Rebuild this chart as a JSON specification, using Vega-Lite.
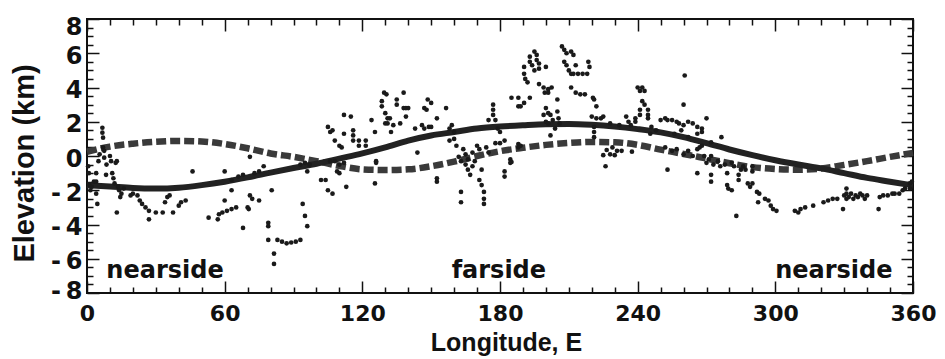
{
  "$schema": "https://vega.github.io/schema/vega-lite/v6.json",
  "width": 826,
  "height": 274,
  "autosize": {"type": "none"},
  "padding": {"left": 87, "top": 19, "right": 32, "bottom": 66},
  "background": "white",
  "config": {
    "view": {"stroke": "#111", "strokeWidth": 2},
    "axis": {"domain": false, "grid": false, "tickColor": "#111", "tickWidth": 1.5, "labelColor": "#111", "titleColor": "#111"}
  },
  "datasets": {
    "solid": [
      {"lon": 0, "elev": -1.7}, {"lon": 10, "elev": -1.78}, {"lon": 20, "elev": -1.87}, {"lon": 30, "elev": -1.9}, {"lon": 40, "elev": -1.85}, {"lon": 50, "elev": -1.7}, {"lon": 60, "elev": -1.5}, {"lon": 70, "elev": -1.25}, {"lon": 80, "elev": -0.97}, {"lon": 90, "elev": -0.7}, {"lon": 100, "elev": -0.45}, {"lon": 110, "elev": -0.15}, {"lon": 120, "elev": 0.15}, {"lon": 130, "elev": 0.5}, {"lon": 140, "elev": 0.9}, {"lon": 150, "elev": 1.2}, {"lon": 160, "elev": 1.4}, {"lon": 170, "elev": 1.6}, {"lon": 180, "elev": 1.72}, {"lon": 190, "elev": 1.8}, {"lon": 200, "elev": 1.86}, {"lon": 210, "elev": 1.87}, {"lon": 220, "elev": 1.82}, {"lon": 230, "elev": 1.72}, {"lon": 240, "elev": 1.57}, {"lon": 250, "elev": 1.38}, {"lon": 260, "elev": 1.1}, {"lon": 270, "elev": 0.75}, {"lon": 280, "elev": 0.38}, {"lon": 290, "elev": 0.05}, {"lon": 300, "elev": -0.25}, {"lon": 310, "elev": -0.5}, {"lon": 320, "elev": -0.72}, {"lon": 330, "elev": -1.0}, {"lon": 340, "elev": -1.28}, {"lon": 350, "elev": -1.5}, {"lon": 360, "elev": -1.72}
    ],
    "dashed": [
      {"lon": 0, "elev": 0.25}, {"lon": 10, "elev": 0.55}, {"lon": 20, "elev": 0.72}, {"lon": 30, "elev": 0.83}, {"lon": 40, "elev": 0.88}, {"lon": 50, "elev": 0.85}, {"lon": 60, "elev": 0.7}, {"lon": 70, "elev": 0.45}, {"lon": 80, "elev": 0.15}, {"lon": 90, "elev": -0.05}, {"lon": 100, "elev": -0.3}, {"lon": 110, "elev": -0.58}, {"lon": 120, "elev": -0.78}, {"lon": 130, "elev": -0.82}, {"lon": 140, "elev": -0.78}, {"lon": 150, "elev": -0.6}, {"lon": 160, "elev": -0.33}, {"lon": 170, "elev": 0.0}, {"lon": 180, "elev": 0.28}, {"lon": 190, "elev": 0.48}, {"lon": 200, "elev": 0.65}, {"lon": 210, "elev": 0.76}, {"lon": 220, "elev": 0.82}, {"lon": 230, "elev": 0.8}, {"lon": 240, "elev": 0.65}, {"lon": 250, "elev": 0.37}, {"lon": 260, "elev": 0.12}, {"lon": 270, "elev": -0.15}, {"lon": 280, "elev": -0.42}, {"lon": 290, "elev": -0.65}, {"lon": 300, "elev": -0.76}, {"lon": 310, "elev": -0.8}, {"lon": 320, "elev": -0.73}, {"lon": 330, "elev": -0.52}, {"lon": 340, "elev": -0.3}, {"lon": 350, "elev": -0.05}, {"lon": 360, "elev": 0.18}
    ],
    "labels": [
      {"lon": 34, "elev": -7.1, "text": "nearside"},
      {"lon": 179.5, "elev": -7.1, "text": "farside"},
      {"lon": 325.5, "elev": -7.1, "text": "nearside"}
    ],
    "points": [
      {"lon": 0.5, "elev": -0.6}, {"lon": 0.8, "elev": -1.0}, {"lon": 1, "elev": -1.7}, {"lon": 1.5, "elev": -2.0}, {"lon": 2, "elev": -1.8}, {"lon": 3, "elev": -1.5}, {"lon": 4, "elev": -1.0}, {"lon": 4, "elev": -1.5}, {"lon": 4, "elev": -2.2}, {"lon": 4.5, "elev": -2.8}, {"lon": 5, "elev": -0.3}, {"lon": 5.5, "elev": 0.1}, {"lon": 6.7, "elev": 1.65}, {"lon": 6.7, "elev": 1.36}, {"lon": 7, "elev": 1.07}, {"lon": 7, "elev": 0.5}, {"lon": 7.5, "elev": 0.3}, {"lon": 7.5, "elev": -0.1}, {"lon": 8.3, "elev": -1.1}, {"lon": 8.5, "elev": -0.5}, {"lon": 10, "elev": 0.0}, {"lon": 10.5, "elev": -0.3}, {"lon": 11, "elev": -1.0}, {"lon": 11.5, "elev": -1.3}, {"lon": 12, "elev": -1.6}, {"lon": 12.5, "elev": -0.4}, {"lon": 13, "elev": -0.3}, {"lon": 13, "elev": -3.3}, {"lon": 13.5, "elev": -1.8}, {"lon": 14, "elev": -2.0}, {"lon": 14.5, "elev": -2.4}, {"lon": 15, "elev": -2.2}, {"lon": 16, "elev": -1.9},
      {"lon": 19, "elev": -2.3}, {"lon": 20, "elev": -2.2}, {"lon": 22, "elev": -2.3}, {"lon": 23, "elev": -2.6}, {"lon": 24, "elev": -2.8}, {"lon": 25.5, "elev": -3.0}, {"lon": 27, "elev": -3.2}, {"lon": 27, "elev": -3.7}, {"lon": 30, "elev": -3.3}, {"lon": 33, "elev": -3.3}, {"lon": 34, "elev": -2.7}, {"lon": 35, "elev": -2.4}, {"lon": 36, "elev": -2.3}, {"lon": 37.5, "elev": -3.3}, {"lon": 40, "elev": -2.9}, {"lon": 41, "elev": -2.7}, {"lon": 43, "elev": -2.6}, {"lon": 46, "elev": -0.9},
      {"lon": 53, "elev": -3.6}, {"lon": 57, "elev": -3.7}, {"lon": 57.5, "elev": -3.4}, {"lon": 59, "elev": -3.3}, {"lon": 61, "elev": -3.2}, {"lon": 63, "elev": -3.1}, {"lon": 65, "elev": -3.0}, {"lon": 60, "elev": -0.9}, {"lon": 60, "elev": -2.6}, {"lon": 63, "elev": -2.0}, {"lon": 63, "elev": -1.4}, {"lon": 68, "elev": -4.2}, {"lon": 70, "elev": -3.0}, {"lon": 70.5, "elev": -3.1}, {"lon": 71, "elev": -0.05}, {"lon": 71, "elev": -2.3}, {"lon": 72, "elev": -2.5}, {"lon": 75, "elev": -2.6}, {"lon": 77, "elev": -0.6}, {"lon": 66, "elev": -1.2}, {"lon": 68, "elev": -1.1}, {"lon": 73, "elev": -1.0}, {"lon": 75, "elev": -0.9},
      {"lon": 79, "elev": -3.9}, {"lon": 79, "elev": -4.1}, {"lon": 79, "elev": -4.9}, {"lon": 80.5, "elev": -2.0}, {"lon": 81.5, "elev": -5.7}, {"lon": 81.5, "elev": -6.3}, {"lon": 83, "elev": -4.9}, {"lon": 85, "elev": -5.0}, {"lon": 87, "elev": -5.1}, {"lon": 89, "elev": -5.05}, {"lon": 91, "elev": -5.0}, {"lon": 93, "elev": -4.9}, {"lon": 94, "elev": -2.8}, {"lon": 95, "elev": -3.5}, {"lon": 96, "elev": -4.1}, {"lon": 96, "elev": -0.9}, {"lon": 93, "elev": -0.5}, {"lon": 95, "elev": -0.4}, {"lon": 97, "elev": -0.5},
      {"lon": 102, "elev": -1.4}, {"lon": 104, "elev": -1.4}, {"lon": 105, "elev": -2.0}, {"lon": 107, "elev": -2.2}, {"lon": 109, "elev": -0.9}, {"lon": 110, "elev": -1.0}, {"lon": 113, "elev": -1.8}, {"lon": 106, "elev": -0.3}, {"lon": 108, "elev": -0.3}, {"lon": 110, "elev": -0.5}, {"lon": 112, "elev": -0.4}, {"lon": 105, "elev": 1.7}, {"lon": 106, "elev": 1.4}, {"lon": 107, "elev": 1.5}, {"lon": 108, "elev": 0.9}, {"lon": 110, "elev": 0.6}, {"lon": 111, "elev": 0.5}, {"lon": 112, "elev": 1.3}, {"lon": 112, "elev": 2.4}, {"lon": 115, "elev": 2.3}, {"lon": 116, "elev": 1.5}, {"lon": 116, "elev": 1.2}, {"lon": 116, "elev": 0.9}, {"lon": 118.5, "elev": 0.9}, {"lon": 118.5, "elev": 0.6}, {"lon": 121.5, "elev": 0.9}, {"lon": 121.5, "elev": 0.6}, {"lon": 124, "elev": 2.1}, {"lon": 125.5, "elev": 1.4}, {"lon": 125.5, "elev": -1.6}, {"lon": 126, "elev": -0.3}, {"lon": 126, "elev": -0.4}, {"lon": 128.5, "elev": 3.2}, {"lon": 128.5, "elev": 2.9}, {"lon": 129.5, "elev": 3.7}, {"lon": 130.5, "elev": 3.6}, {"lon": 130, "elev": 2.5}, {"lon": 131, "elev": 2.2}, {"lon": 132, "elev": 2.2}, {"lon": 130, "elev": 1.9}, {"lon": 131, "elev": 1.9},
      {"lon": 132.5, "elev": 1.4}, {"lon": 133.5, "elev": 1.8}, {"lon": 135, "elev": 3.3}, {"lon": 135, "elev": 3.0}, {"lon": 136.5, "elev": 1.9}, {"lon": 138, "elev": 3.7}, {"lon": 138, "elev": 2.8}, {"lon": 139, "elev": 2.8}, {"lon": 140, "elev": 2.8}, {"lon": 139, "elev": 2.3}, {"lon": 143, "elev": 1.6}, {"lon": 144, "elev": 0.2}, {"lon": 146, "elev": 1.8}, {"lon": 147, "elev": 1.6}, {"lon": 149, "elev": 1.7}, {"lon": 150, "elev": 1.7}, {"lon": 147, "elev": 2.8}, {"lon": 148, "elev": 2.7}, {"lon": 148.5, "elev": 3.3}, {"lon": 150, "elev": 3.1}, {"lon": 152.5, "elev": 2.2}, {"lon": 152.5, "elev": -1.3}, {"lon": 152.5, "elev": -1.5}, {"lon": 156.5, "elev": 2.8}, {"lon": 158, "elev": 1.6}, {"lon": 158, "elev": 0.9}, {"lon": 159, "elev": 1.8}, {"lon": 160, "elev": 1.4}, {"lon": 160, "elev": 1.0}, {"lon": 161, "elev": 0.6}, {"lon": 163, "elev": -2.1}, {"lon": 163, "elev": -2.7},
      {"lon": 162, "elev": -0.05}, {"lon": 163, "elev": -0.3}, {"lon": 164, "elev": 0.4}, {"lon": 165, "elev": 0.1}, {"lon": 165, "elev": -0.5}, {"lon": 166, "elev": -0.2}, {"lon": 166, "elev": -0.8}, {"lon": 167, "elev": -1.1}, {"lon": 168, "elev": -0.6}, {"lon": 168, "elev": 0.2}, {"lon": 169, "elev": -0.3}, {"lon": 170, "elev": 0.6}, {"lon": 171, "elev": -1.4}, {"lon": 171, "elev": 0.4}, {"lon": 172, "elev": -0.8}, {"lon": 172, "elev": -1.7}, {"lon": 173, "elev": -2.1}, {"lon": 173, "elev": -2.5}, {"lon": 173, "elev": -2.8}, {"lon": 174, "elev": 0.5}, {"lon": 175, "elev": 0.2}, {"lon": 175, "elev": 2.1}, {"lon": 177, "elev": 3.0}, {"lon": 177, "elev": 2.7}, {"lon": 177, "elev": 2.4}, {"lon": 178, "elev": 2.1}, {"lon": 178, "elev": 0.75}, {"lon": 179, "elev": 1.6}, {"lon": 180, "elev": 1.4}, {"lon": 180, "elev": 0.75}, {"lon": 182, "elev": -0.9}, {"lon": 182, "elev": -1.2}, {"lon": 182, "elev": 0.9}, {"lon": 184.5, "elev": -0.2}, {"lon": 184.5, "elev": -0.4}, {"lon": 185, "elev": 3.4}, {"lon": 185, "elev": -0.35}, {"lon": 188, "elev": 3.4}, {"lon": 188, "elev": 2.9}, {"lon": 189, "elev": 2.9}, {"lon": 190.5, "elev": 3.1}, {"lon": 188, "elev": 0.5}, {"lon": 188, "elev": 0.7}, {"lon": 189, "elev": 0.6},
      {"lon": 190.5, "elev": 5.2}, {"lon": 190.5, "elev": 4.8}, {"lon": 191, "elev": 4.5}, {"lon": 192, "elev": 4.3}, {"lon": 193, "elev": 5.5}, {"lon": 193, "elev": 5.8}, {"lon": 194, "elev": 5.3}, {"lon": 195, "elev": 6.1}, {"lon": 196, "elev": 5.9}, {"lon": 196, "elev": 5.6}, {"lon": 197, "elev": 5.1}, {"lon": 197, "elev": 5.4}, {"lon": 195, "elev": 5.0}, {"lon": 200, "elev": 5.2}, {"lon": 193, "elev": 3.4}, {"lon": 197, "elev": 4.2}, {"lon": 199, "elev": 4.0}, {"lon": 201, "elev": 3.9}, {"lon": 202.5, "elev": 4.0}, {"lon": 199.5, "elev": 3.7}, {"lon": 201, "elev": 3.7}, {"lon": 205, "elev": 3.3}, {"lon": 199, "elev": 2.4}, {"lon": 200, "elev": 2.8}, {"lon": 201, "elev": 2.5}, {"lon": 202, "elev": 2.4}, {"lon": 205, "elev": 2.6}, {"lon": 205.5, "elev": 2.2}, {"lon": 206, "elev": 1.9}, {"lon": 202, "elev": 1.2}, {"lon": 200, "elev": 2.0}, {"lon": 201, "elev": 1.9}, {"lon": 203, "elev": 2.1}, {"lon": 204, "elev": 1.6},
      {"lon": 207, "elev": 6.4}, {"lon": 208, "elev": 6.2}, {"lon": 209, "elev": 6.0}, {"lon": 211, "elev": 6.1}, {"lon": 212, "elev": 5.9}, {"lon": 208, "elev": 5.5}, {"lon": 209, "elev": 5.3}, {"lon": 210, "elev": 5.0}, {"lon": 211, "elev": 4.8}, {"lon": 212, "elev": 4.8}, {"lon": 214, "elev": 4.8}, {"lon": 216, "elev": 4.8}, {"lon": 218, "elev": 4.8}, {"lon": 213, "elev": 5.3}, {"lon": 211, "elev": 4.0}, {"lon": 213, "elev": 3.7}, {"lon": 215, "elev": 3.6}, {"lon": 217, "elev": 3.6}, {"lon": 218.5, "elev": 5.5}, {"lon": 219, "elev": 5.2}, {"lon": 220.5, "elev": 3.4}, {"lon": 221, "elev": 3.3}, {"lon": 222, "elev": 2.9}, {"lon": 220, "elev": 2.3}, {"lon": 222, "elev": 2.2}, {"lon": 224, "elev": 2.2}, {"lon": 225, "elev": 2.3}, {"lon": 221, "elev": 1.7}, {"lon": 221, "elev": 1.4}, {"lon": 221, "elev": 1.1},
      {"lon": 225, "elev": 0.05}, {"lon": 226, "elev": -0.6}, {"lon": 226.5, "elev": 0.35}, {"lon": 228, "elev": 0.1}, {"lon": 229, "elev": 0.5}, {"lon": 230, "elev": 0.05}, {"lon": 231, "elev": 0.3}, {"lon": 233, "elev": 0.3}, {"lon": 237.5, "elev": 0.25}, {"lon": 235, "elev": 2.3}, {"lon": 236, "elev": 2.0}, {"lon": 237, "elev": 1.8}, {"lon": 239, "elev": 2.2}, {"lon": 239, "elev": 2.0}, {"lon": 240, "elev": 4.0}, {"lon": 241, "elev": 3.8}, {"lon": 242, "elev": 4.0}, {"lon": 243, "elev": 3.8}, {"lon": 242, "elev": 3.2}, {"lon": 243, "elev": 3.0}, {"lon": 241, "elev": 2.7}, {"lon": 241, "elev": 2.4}, {"lon": 244.5, "elev": 2.7}, {"lon": 244.5, "elev": 2.4}, {"lon": 244.5, "elev": 2.2}, {"lon": 245.5, "elev": 1.3}, {"lon": 228, "elev": 1.9}, {"lon": 232, "elev": 1.8}, {"lon": 246, "elev": 1.7}, {"lon": 248, "elev": 1.5},
      {"lon": 250, "elev": 2.1}, {"lon": 252, "elev": 2.2}, {"lon": 253, "elev": 2.1}, {"lon": 255, "elev": 2.1}, {"lon": 257, "elev": 2.0}, {"lon": 258, "elev": 1.9}, {"lon": 260, "elev": 1.8}, {"lon": 262, "elev": 2.0}, {"lon": 264, "elev": 1.9}, {"lon": 266, "elev": 1.7}, {"lon": 268, "elev": 1.6}, {"lon": 270, "elev": 2.2}, {"lon": 259, "elev": 1.5}, {"lon": 266, "elev": 1.3}, {"lon": 268, "elev": 1.4}, {"lon": 260.5, "elev": 4.7}, {"lon": 260, "elev": 3.0}, {"lon": 276.5, "elev": 1.1}, {"lon": 256, "elev": 1.3}, {"lon": 262, "elev": 1.1}, {"lon": 272, "elev": 0.8},
      {"lon": 252, "elev": 0.5}, {"lon": 253, "elev": -0.8}, {"lon": 255, "elev": 0.3}, {"lon": 257, "elev": 0.4}, {"lon": 260, "elev": 0.1}, {"lon": 262, "elev": 0.3}, {"lon": 264, "elev": 0.0}, {"lon": 266, "elev": -1.0}, {"lon": 266, "elev": 0.4}, {"lon": 267, "elev": 0.5}, {"lon": 268, "elev": 0.6}, {"lon": 269, "elev": 0.0}, {"lon": 270, "elev": -0.4}, {"lon": 271, "elev": -0.2}, {"lon": 272, "elev": 0.0}, {"lon": 272, "elev": -1.1}, {"lon": 272, "elev": -1.5}, {"lon": 273, "elev": -0.5}, {"lon": 275, "elev": -0.3}, {"lon": 276, "elev": -0.6}, {"lon": 278, "elev": -0.5}, {"lon": 279, "elev": -1.0}, {"lon": 279, "elev": -1.7}, {"lon": 279.5, "elev": -1.9}, {"lon": 281, "elev": -2.0}, {"lon": 281, "elev": -0.4}, {"lon": 282, "elev": -0.6}, {"lon": 283, "elev": -3.5}, {"lon": 284, "elev": -1.1}, {"lon": 284, "elev": -1.4}, {"lon": 285, "elev": -0.8}, {"lon": 286, "elev": -0.6}, {"lon": 287, "elev": -0.8}, {"lon": 288, "elev": -1.6}, {"lon": 289, "elev": -1.8}, {"lon": 290, "elev": -1.6}, {"lon": 290, "elev": -0.6}, {"lon": 290, "elev": -0.9}, {"lon": 292, "elev": -2.1}, {"lon": 292.5, "elev": -2.7}, {"lon": 293, "elev": -2.2}, {"lon": 295.5, "elev": -2.5}, {"lon": 297, "elev": -2.6}, {"lon": 298, "elev": -2.9}, {"lon": 299, "elev": -3.1}, {"lon": 300.5, "elev": -3.2},
      {"lon": 308.5, "elev": -3.2}, {"lon": 310, "elev": -3.3}, {"lon": 311, "elev": -3.1}, {"lon": 313, "elev": -3.0}, {"lon": 316.5, "elev": -2.9}, {"lon": 321, "elev": -2.7}, {"lon": 323, "elev": -2.6}, {"lon": 325, "elev": -2.5}, {"lon": 327, "elev": -2.5}, {"lon": 329.5, "elev": -3.1}, {"lon": 330, "elev": -2.3}, {"lon": 331, "elev": -1.9}, {"lon": 331, "elev": -2.2}, {"lon": 331, "elev": -2.5}, {"lon": 332, "elev": -2.4}, {"lon": 333, "elev": -2.2}, {"lon": 334, "elev": -2.5}, {"lon": 335, "elev": -2.3}, {"lon": 336, "elev": -2.4}, {"lon": 337, "elev": -2.2}, {"lon": 338, "elev": -2.3}, {"lon": 339, "elev": -2.5}, {"lon": 340, "elev": -2.3}, {"lon": 345, "elev": -3.1}, {"lon": 345.5, "elev": -2.4}, {"lon": 347, "elev": -2.3}, {"lon": 349, "elev": -2.3}, {"lon": 351, "elev": -2.2}, {"lon": 352, "elev": -2.2}, {"lon": 354, "elev": -2.2}, {"lon": 355.5, "elev": -2.0}, {"lon": 356.5, "elev": -1.9}, {"lon": 358.7, "elev": -1.6}, {"lon": 358.7, "elev": -1.9}, {"lon": 359.5, "elev": -1.5}
    ]
  },
  "layer": [
    {
      "data": {"name": "dashed"},
      "mark": {"type": "line", "strokeDash": [10, 4], "strokeWidth": 6.5, "color": "#3a3a3a", "interpolate": "monotone"},
      "encoding": {
        "x": {"field": "lon", "type": "quantitative", "scale": {"domain": [0, 360], "nice": false, "zero": false},
          "axis": {"orient": "bottom", "values": [0,10,20,30,40,50,60,70,80,90,100,110,120,130,140,150,160,170,180,190,200,210,220,230,240,250,260,270,280,290,300,310,320,330,340,350,360],
            "tickSize": {"condition": {"test": "datum.value % 60 === 0", "value": -12}, "value": -6},
            "labelExpr": "datum.value % 60 === 0 ? datum.label : ''",
            "labelFont": "DejaVu Sans", "labelFontWeight": "bold", "labelFontSize": 22, "labelPadding": 22, "labelBaseline": "top", "labelAlign": "center", "labelOverlap": false, "labelFlush": false,
            "title": "Longitude,  E", "titleFont": "Liberation Sans", "titleFontSize": 25, "titleFontWeight": "bold",
            "titleX": 419, "titleY": 57, "titleBaseline": "alphabetic", "titleAlign": "center"}},
        "y": {"field": "elev", "type": "quantitative", "scale": {"domain": [-8, 8], "nice": false, "zero": false},
          "axis": {"orient": "left", "values": [-8,-7.5,-7,-6.5,-6,-5.5,-5,-4.5,-4,-3.5,-3,-2.5,-2,-1.5,-1,-0.5,0,0.5,1,1.5,2,2.5,3,3.5,4,4.5,5,5.5,6,6.5,7,7.5,8],
            "tickSize": {"condition": {"test": "datum.value % 2 === 0", "value": -12}, "value": -6},
            "labelExpr": "datum.value % 2 === 0 ? (datum.value < 0 ? '-\u2009' + abs(datum.value) : '' + datum.value) : ''",
            "labelFont": "DejaVu Sans", "labelFontWeight": "bold", "labelFontSize": 24, "labelPadding": 17, "labelAlign": "right", "labelBaseline": "middle", "labelOverlap": false, "labelFlush": false,
            "labelOffset": {"condition": [{"test": "datum.value === 8", "value": 8}, {"test": "datum.value === -8", "value": -2}], "value": 3},
            "title": "Elevation  (km)", "titleFont": "Liberation Sans", "titleFontSize": 29, "titleFontWeight": "bold",
            "titleAngle": -90, "titleX": -54, "titleY": 144, "titleBaseline": "alphabetic", "titleAlign": "center"}}
      }
    },
    {
      "data": {"name": "solid"},
      "mark": {"type": "line", "strokeWidth": 6, "color": "#222", "interpolate": "monotone"},
      "encoding": {
        "x": {"field": "lon", "type": "quantitative", "scale": {"domain": [0, 360], "nice": false, "zero": false}, "axis": null},
        "y": {"field": "elev", "type": "quantitative", "scale": {"domain": [-8, 8], "nice": false, "zero": false}, "axis": null}
      }
    },
    {
      "data": {"name": "points"},
      "mark": {"type": "circle", "size": 22, "color": "#1a1a1a", "opacity": 1},
      "encoding": {
        "x": {"field": "lon", "type": "quantitative", "scale": {"domain": [0, 360], "nice": false, "zero": false}, "axis": null},
        "y": {"field": "elev", "type": "quantitative", "scale": {"domain": [-8, 8], "nice": false, "zero": false}, "axis": null}
      }
    },
    {
      "data": {"name": "labels"},
      "mark": {"type": "text", "font": "DejaVu Sans", "fontWeight": "bold", "fontSize": 24, "align": "center", "baseline": "alphabetic", "color": "#111"},
      "encoding": {
        "text": {"field": "text"},
        "x": {"field": "lon", "type": "quantitative", "scale": {"domain": [0, 360], "nice": false, "zero": false},
          "axis": {"orient": "top", "values": [0,10,20,30,40,50,60,70,80,90,100,110,120,130,140,150,160,170,180,190,200,210,220,230,240,250,260,270,280,290,300,310,320,330,340,350,360],
            "tickSize": {"condition": {"test": "datum.value % 60 === 0", "value": -12}, "value": -6},
            "labels": false, "title": null}},
        "y": {"field": "elev", "type": "quantitative", "scale": {"domain": [-8, 8], "nice": false, "zero": false},
          "axis": {"orient": "right", "values": [-8,-7.5,-7,-6.5,-6,-5.5,-5,-4.5,-4,-3.5,-3,-2.5,-2,-1.5,-1,-0.5,0,0.5,1,1.5,2,2.5,3,3.5,4,4.5,5,5.5,6,6.5,7,7.5,8],
            "tickSize": {"condition": {"test": "datum.value % 2 === 0", "value": -12}, "value": -6},
            "labels": false, "title": null}}
      }
    }
  ],
  "resolve": {"axis": {"x": "independent", "y": "independent"}}
}
